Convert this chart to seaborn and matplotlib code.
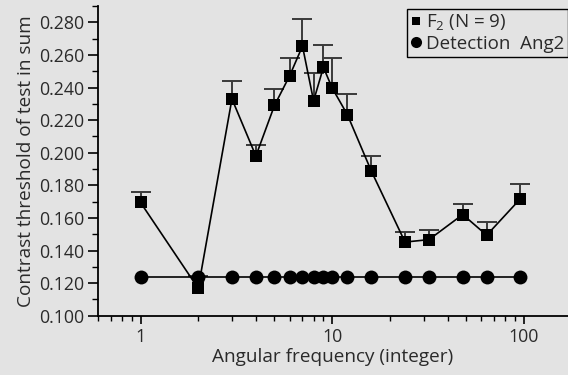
import numpy as np
import pandas as pd
import matplotlib
matplotlib.use("Agg")
import matplotlib.pyplot as plt
from matplotlib.lines import Line2D
from matplotlib.ticker import FixedLocator, NullFormatter, MultipleLocator, FormatStrFormatter
import seaborn as sns

# Angular frequencies tested
freq = [1, 2, 3, 4, 5, 6, 7, 8, 9, 10, 12, 16, 24, 32, 48, 64, 96]
# F2 contrast thresholds (mean) and upper error
f2_mean = [0.1695, 0.1168, 0.2330, 0.1980, 0.2290, 0.2472, 0.2654, 0.2318,
           0.2524, 0.2397, 0.2234, 0.1888, 0.1452, 0.1467, 0.1621, 0.1494, 0.1718]
f2_err = [0.0062, 0.0078, 0.0108, 0.0068, 0.0099, 0.0106, 0.0167, 0.0173,
          0.0134, 0.0187, 0.0127, 0.0089, 0.0059, 0.0062, 0.0067, 0.0083, 0.0088]
# Detection threshold for Ang2
det = [0.124] * len(freq)

xticks = [1, 10, 100]
xticklabels = ["1", "10", "100"]
series_labels = ["F$_2$ (N = 9)", "Detection  Ang2"]

df_f2 = pd.DataFrame({"freq": freq, "thr": f2_mean})
df_det = pd.DataFrame({"freq": freq, "thr": det})

bg = "#e3e3e3"
sns.set_theme(style="ticks", rc={
    "figure.facecolor": bg, "axes.facecolor": bg, "savefig.facecolor": bg,
    "axes.edgecolor": "black", "axes.linewidth": 1.3,
    "xtick.major.size": 6, "ytick.major.size": 7,
    "xtick.minor.size": 3.5, "ytick.minor.size": 4,
    "xtick.major.width": 1.2, "ytick.major.width": 1.2,
    "xtick.minor.width": 1.0, "ytick.minor.width": 1.0,
    "xtick.color": "black", "ytick.color": "black",
    "xtick.labelcolor": "#2a2a2a", "ytick.labelcolor": "#2a2a2a",
    "axes.labelcolor": "#2a2a2a", "text.color": "#2a2a2a",
})
plt.rcParams["font.family"] = ["Open Sans", "DejaVu Sans"]
plt.rcParams["mathtext.fontset"] = "custom"
plt.rcParams["mathtext.rm"] = "Open Sans"

fig = plt.figure(figsize=(5.68, 3.75), dpi=100)
ax = fig.add_axes([0.1725, 0.158, 0.8275, 0.826])

# Upward-only error bars for F2 (lower caps hidden)
eb = ax.errorbar(freq, f2_mean, yerr=[np.zeros(len(freq)), f2_err], fmt="none",
                 ecolor="#3a3a3a", elinewidth=1.4, capsize=7.5, capthick=1.4, zorder=2)
caplines = eb.lines[1]
if len(caplines) == 2:
    caplines[0].set_visible(False)

sns.lineplot(data=df_f2, x="freq", y="thr", ax=ax, color="black", linewidth=1.2,
             marker="s", markersize=8, markeredgewidth=0, markerfacecolor="black",
             zorder=3, legend=False)
sns.lineplot(data=df_det, x="freq", y="thr", ax=ax, color="black", linewidth=1.2,
             marker="o", markersize=10, markeredgewidth=0, markerfacecolor="black",
             zorder=4, legend=False)

ax.set_xscale("log")
ax.set_xlim(0.6, 170)
ax.set_ylim(0.100, 0.290)
ax.set_xticks(xticks)
ax.set_xticklabels(xticklabels)
minors = [m * 10.0 ** e for e in (-1, 0, 1, 2) for m in range(2, 10)]
ax.xaxis.set_minor_locator(FixedLocator(minors))
ax.xaxis.set_minor_formatter(NullFormatter())
ax.yaxis.set_major_locator(MultipleLocator(0.02))
ax.yaxis.set_minor_locator(MultipleLocator(0.01))
ax.yaxis.set_major_formatter(FormatStrFormatter("%.3f"))
ax.tick_params(axis="both", which="major", labelsize=12.8, pad=3)

sns.despine(ax=ax)
ax.set_xlabel("Angular frequency (integer)", fontsize=13.7, labelpad=1)
ax.set_ylabel("Contrast threshold of test in sum", fontsize=13.7, labelpad=3)

# Legend shows markers only
handles = [
    Line2D([], [], linestyle="none", marker="s", markersize=6,
           markerfacecolor="black", markeredgewidth=0),
    Line2D([], [], linestyle="none", marker="o", markersize=8,
           markerfacecolor="black", markeredgewidth=0),
]
leg = ax.legend(handles, series_labels, loc="upper right", bbox_to_anchor=(1.0, 0.99),
                fontsize=13.5, frameon=True, fancybox=False, framealpha=1,
                edgecolor="black", facecolor=bg, handlelength=0.5,
                handletextpad=0.3, borderpad=0.2, labelspacing=0.1,
                borderaxespad=0.0)
leg.get_frame().set_linewidth(1.0)

fig.savefig("out.png", dpi=100)
